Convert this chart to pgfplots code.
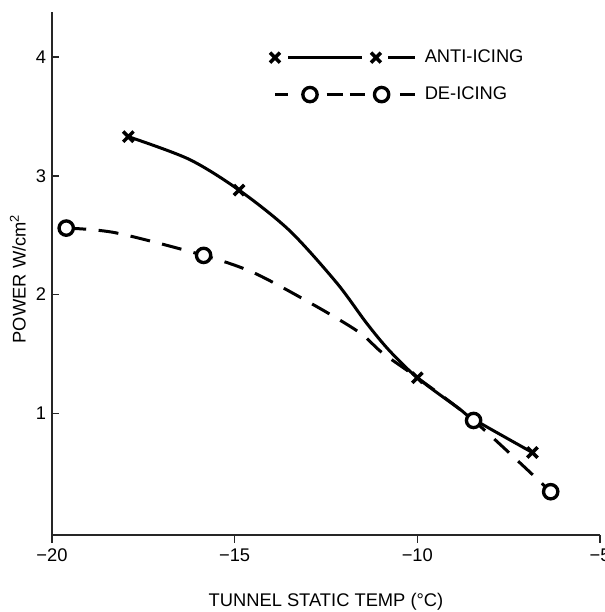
\documentclass[border=0pt]{standalone}
\usepackage{pgfplots}
\pgfplotsset{compat=1.18}
\usepackage{fontspec}
\setmainfont{Liberation Sans}

\begin{document}
\begin{tikzpicture}
\begin{axis}[
  scale only axis,
  width=329pt, height=314pt,
  xmin=-20, xmax=-5,
  ymin=-0.025, ymax=4.38,
  axis x line*=bottom,
  axis y line*=left,
  axis line style={black!85, line width=0.8pt},
  xtick={-20,-15,-10,-5},
  xticklabels={−20,−15,−10,−5},
  ytick={1,2,3,4},
  major tick length=4.5pt,
  tick style={black!85, line width=0.8pt},
  xtick align=outside,
  ytick align=inside,
  /pgf/number format/assume math mode=true,
  tick label style={font=\fontsize{11}{13}\selectfont},
  xlabel={TUNNEL STATIC TEMP (°C)},
  ylabel={POWER W/cm\textsuperscript{2}},
  xlabel style={font=\fontsize{11}{13}\selectfont, at={(axis description cs:0.5,0)}, anchor=center, yshift=-40pt},
  ylabel style={font=\fontsize{11}{13}\selectfont, at={(axis description cs:0,0.49)}, anchor=center, yshift=20.5pt},
  legend style={draw=none, fill=none, at={(axis cs:-14.04,3.84)}, anchor=west,
    inner sep=0pt, row sep=9pt, font=\fontsize{11}{13}\selectfont,
    nodes={inner sep=2pt},
    /tikz/every odd column/.style={column sep=3pt}},
  legend cell align=left,
]
% anti-icing curve
\addplot[black, line width=1.8pt, smooth, tension=0.5, forget plot] coordinates {
  (-17.91,3.33) (-16.25,3.14) (-14.88,2.88) (-13.50,2.54) (-12.21,2.10)
  (-11.39,1.76) (-10.77,1.53) (-10.00,1.30) (-8.86,1.04) (-8.46,0.95) (-6.85,0.67)
};
% de-icing curve
\addplot[black, line width=1.8pt, smooth, tension=0.5, dash pattern=on 12pt off 7.5pt, forget plot] coordinates {
  (-19.61,2.56) (-18.25,2.52) (-15.85,2.33) (-14.45,2.18) (-12.76,1.90)
  (-11.58,1.68) (-10.96,1.51) (-10.00,1.30) (-8.46,0.94) (-6.35,0.34)
};
% measured points
\addplot[only marks, mark=x, mark size=4.4pt, mark options={black, line width=2.1pt}, forget plot] coordinates {
  (-17.91,3.33) (-14.88,2.88) (-10.00,1.30) (-6.85,0.67)
};
\addplot[only marks, mark=*, mark size=4.3pt, mark options={black, fill=white, line width=2pt}, forget plot] coordinates {
  (-19.61,2.56) (-15.85,2.33) (-8.46,0.94) (-6.35,0.34)
};
\addlegendimage{legend image code/.code={
  \draw[black, line width=1.7pt] (8pt,0pt) -- (52pt,0pt) (68pt,0pt) -- (84pt,0pt);
  \draw[black, line width=2.1pt] plot[only marks, mark=x, mark size=4.2pt] coordinates {(0pt,0pt) (60.6pt,0pt)};
}}
\addlegendentry{ANTI-ICING}
\addlegendimage{legend image code/.code={
  \draw[black, line width=1.8pt] (0pt,0pt) -- (8pt,0pt) (31pt,0pt) -- (41pt,0pt) (45pt,0pt) -- (54pt,0pt) (75pt,0pt) -- (84pt,0pt);
  \draw[black, line width=2pt] plot[only marks, mark=*, mark size=4.3pt, mark options={fill=white}] coordinates {(21pt,0pt) (64pt,0pt)};
}}
\addlegendentry{DE-ICING}
\end{axis}
\pgfresetboundingbox
\path[use as bounding box] ([shift={(-31.2pt,-46.2pt)}]current axis.south west) rectangle ([shift={(3pt,7.2pt)}]current axis.north east);
\end{tikzpicture}
\end{document}
